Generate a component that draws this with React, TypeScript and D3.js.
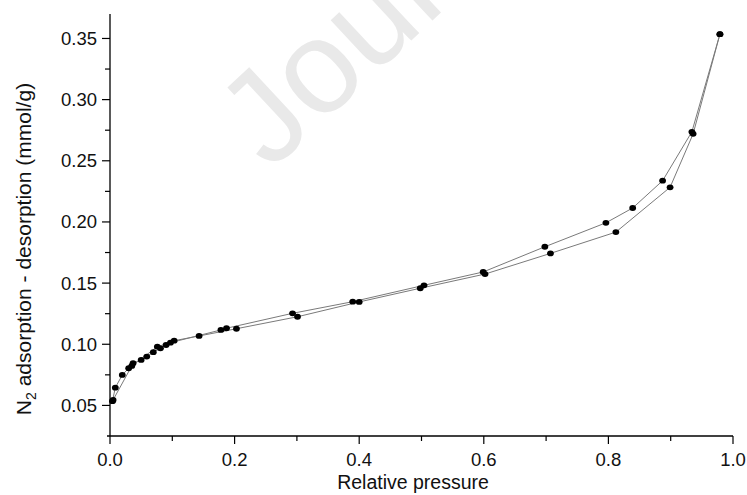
import React from "react";
import * as d3 from "d3";

// adsorption branch (relative pressure, mmol/g)
const adsP = [0.004, 0.0085, 0.0197, 0.03, 0.037, 0.05, 0.059, 0.0695, 0.081, 0.09, 0.103, 0.143, 0.203, 0.301, 0.4, 0.498, 0.602, 0.707, 0.812, 0.899, 0.936, 0.979];
const adsV = [0.0535, 0.0645, 0.0749, 0.0804, 0.0845, 0.0872, 0.0899, 0.0935, 0.0967, 0.0994, 0.1029, 0.1068, 0.1127, 0.1225, 0.1346, 0.1458, 0.1574, 0.1743, 0.1917, 0.2283, 0.272, 0.3535];

// desorption branch
const desP = [0.979, 0.934, 0.887, 0.839, 0.796, 0.698, 0.599, 0.504, 0.3896, 0.293, 0.187, 0.178, 0.097, 0.076, 0.035, 0.005];
const desV = [0.3535, 0.2737, 0.2337, 0.2114, 0.1993, 0.1797, 0.1591, 0.1482, 0.1348, 0.1253, 0.1131, 0.1117, 0.1013, 0.098, 0.0823, 0.0545];

const xTicks = [0, 0.2, 0.4, 0.6, 0.8, 1.0];
const xMinor = [0.1, 0.3, 0.5, 0.7, 0.9];
const yTicks = [0.05, 0.1, 0.15, 0.2, 0.25, 0.3, 0.35];
const yMinor = [0.075, 0.125, 0.175, 0.225, 0.275, 0.325];

const W = 747;
const H = 495;
const margin = { left: 110, right: 14, top: 14, bottom: 59 };
const font = "'Liberation Sans', Arial, sans-serif";

export default function App() {
  const x = d3.scaleLinear().domain([0, 1]).range([margin.left, W - margin.right]);
  const y = d3.scaleLinear().domain([0.025, 0.37]).range([H - margin.bottom, margin.top]);

  const ads = adsP.map((p, i) => [p, adsV[i]] as [number, number]);
  const des = desP.map((p, i) => [p, desV[i]] as [number, number]);
  const line = d3.line<[number, number]>().x(d => x(d[0])).y(d => y(d[1]));

  const y0 = y(0.025);
  const x0 = x(0);

  return (
    <svg width={W} height={H} style={{ position: "absolute", left: 0, top: 0, background: "#fff" }}>
      {/* watermark, only the visible part */}
      <text x={270} y={172} transform="rotate(-43 270 172)" fontFamily={font} fontSize={132} fill="#e9e9e9">
        Jour
      </text>

      {/* axes */}
      <line x1={x0 - 3} x2={x(1)} y1={y0} y2={y0} stroke="#000" strokeWidth={1.3} />
      <line x1={x0} x2={x0} y1={y0} y2={margin.top} stroke="#000" strokeWidth={1.3} />

      {xTicks.map(t => (
        <g key={"x" + t}>
          <line x1={x(t)} x2={x(t)} y1={y0} y2={y0 + 8} stroke="#000" strokeWidth={1.2} />
          <text x={x(t)} y={y0 + 30} textAnchor="middle" fontFamily={font} fontSize={18.5} fill="#111">
            {t.toFixed(1)}
          </text>
        </g>
      ))}
      {xMinor.map(t => (
        <line key={"xm" + t} x1={x(t)} x2={x(t)} y1={y0} y2={y0 + 5} stroke="#000" strokeWidth={1.2} />
      ))}

      {yTicks.map(t => (
        <g key={"y" + t}>
          <line x1={x0 - 8} x2={x0} y1={y(t)} y2={y(t)} stroke="#000" strokeWidth={1.2} />
          <text x={x0 - 13} y={y(t) + 6.5} textAnchor="end" fontFamily={font} fontSize={18.5} fill="#111">
            {t.toFixed(2)}
          </text>
        </g>
      ))}
      {yMinor.map(t => (
        <line key={"ym" + t} x1={x0 - 5} x2={x0} y1={y(t)} y2={y(t)} stroke="#000" strokeWidth={1.2} />
      ))}

      {/* axis titles */}
      <text x={413} y={H - 6} textAnchor="middle" fontFamily={font} fontSize={19.5} fill="#111">
        Relative pressure
      </text>
      <text transform={`translate(31,249) rotate(-90)`} textAnchor="middle" fontFamily={font} fontSize={21} fill="#111">
        N<tspan fontSize={14} dy={5}>2</tspan>
        <tspan dy={-5}> adsorption - desorption (mmol/g)</tspan>
      </text>

      {/* series */}
      <path d={line(ads) || ""} fill="none" stroke="#7a7a7a" strokeWidth={1} />
      <path d={line(des) || ""} fill="none" stroke="#7a7a7a" strokeWidth={1} />
      {ads.concat(des).map((d, i) => (
        <ellipse key={i} cx={x(d[0])} cy={y(d[1])} rx={3.4} ry={2.9} fill="#000" />
      ))}
    </svg>
  );
}
